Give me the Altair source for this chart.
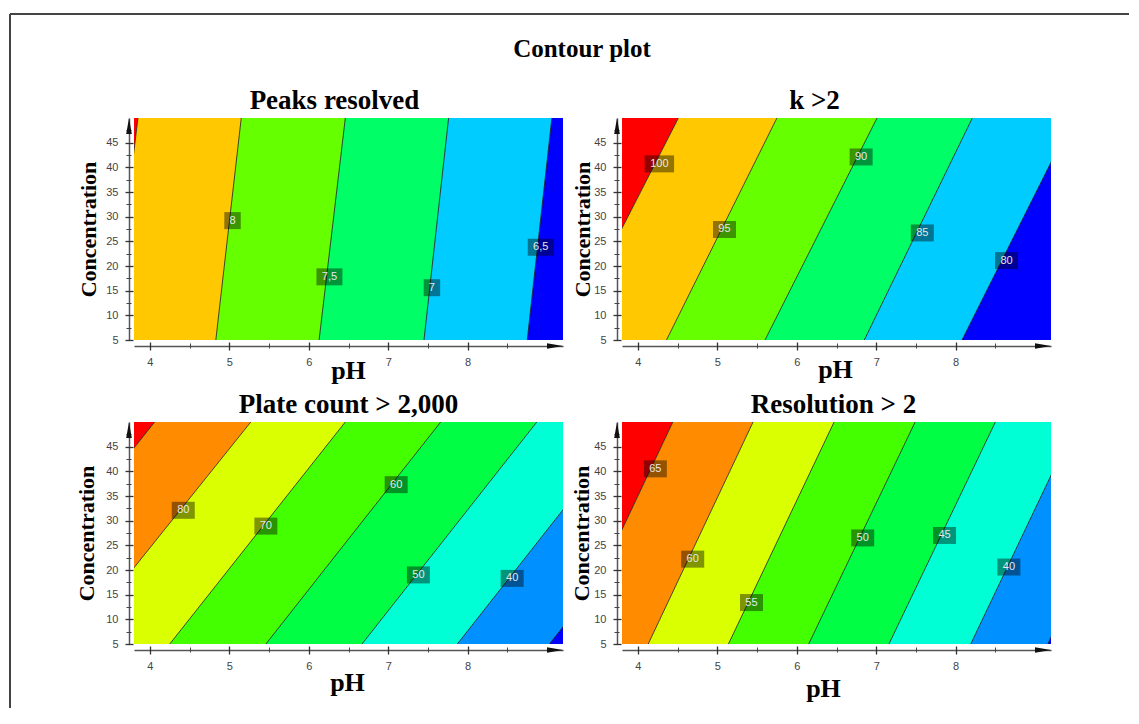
import altair as alt
import pandas as pd

# ---------------- data ----------------
PH_RANGE = [3.8, 9.2]
CONC_RANGE = [5, 50]
PH_MAJOR = [4, 5, 6, 7, 8]
PH_MINOR = [4.5, 5.5, 6.5, 7.5, 8.5]
CONC_MAJOR = [5, 10, 15, 20, 25, 30, 35, 40, 45]
CONC_MINOR = [7.5, 12.5, 17.5, 22.5, 27.5, 32.5, 37.5, 42.5, 47.5]

PALETTE_6 = ["#ff0000", "#ffc800", "#66ff00", "#00ff66", "#00ccff", "#0000ff"]
PALETTE_8 = ["#ff0000", "#ff8c00", "#d9ff00", "#44ff00", "#00ff44", "#00ffd5", "#0090ff", "#0000ff"]

# Peaks resolved: contour levels, pH where each line meets conc=5 and conc=50
peaks_levels = ["8,5", "8", "7,5", "7", "6,5"]
peaks_ph_low = [3.51, 4.83, 6.13, 7.45, 8.75]
peaks_ph_high = [3.85, 5.15, 6.46, 7.76, 9.06]
peaks_lab_text = ["8", "7,5", "7", "6,5"]
peaks_lab_ph = [5.04, 6.26, 7.55, 8.92]
peaks_lab_conc = [29.2, 17.8, 15.6, 23.8]

# k > 2
k_levels = ["100", "95", "90", "85", "80"]
k_ph_low = [3.08, 4.36, 5.60, 6.85, 8.08]
k_ph_high = [4.51, 5.75, 7.01, 8.21, 9.48]
k_lab_text = ["100", "95", "90", "85", "80"]
k_lab_ph = [4.27, 5.09, 6.81, 7.58, 8.64]
k_lab_conc = [40.7, 27.4, 42.1, 26.7, 21.1]

# Plate count > 2,000
plate_levels = ["90", "80", "70", "60", "50", "40", "30"]
plate_ph_low = [1.84, 3.03, 4.25, 5.46, 6.67, 7.87, 9.03]
plate_ph_high = [4.06, 5.27, 6.46, 7.66, 8.87, 10.07, 11.23]
plate_lab_text = ["80", "70", "60", "50", "40"]
plate_lab_ph = [4.42, 5.46, 7.10, 7.38, 8.56]
plate_lab_conc = [32.1, 28.9, 37.3, 19.0, 18.3]

# Resolution > 2
res_levels = ["65", "60", "55", "50", "45", "40", "35"]
res_ph_low = [3.12, 4.13, 5.14, 6.15, 7.16, 8.19, 9.16]
res_ph_high = [4.44, 5.45, 6.47, 7.49, 8.50, 9.52, 10.48]
res_lab_text = ["65", "60", "55", "50", "45", "40"]
res_lab_ph = [4.22, 4.69, 5.43, 6.83, 7.86, 8.67]
res_lab_conc = [40.5, 22.2, 13.4, 26.5, 27.0, 20.6]

# ---------------- styling ----------------
W, H = 429, 222
SERIF = "Liberation Serif"
SANS = "Liberation Sans"

xscale = alt.Scale(domain=PH_RANGE, nice=False, zero=False)
yscale = alt.Scale(domain=CONC_RANGE, nice=False, zero=False)


def box_path(t):
    digits = sum(ch.isdigit() for ch in t)
    commas = len(t) - digits
    w = 10 + 6.5 * digits + 3 * commas
    h = 17
    r = 15.0
    a, b = w / 2 / r, h / 2 / r
    return f"M{-a:.3f},{-b:.3f}H{a:.3f}V{b:.3f}H{-a:.3f}Z"


def conc_on_line(p, p5, p50):
    # concentration at which the straight contour line through (p5, c_lo) and (p50, c_hi) has pH p
    c_lo, c_hi = CONC_RANGE
    return c_lo + (p - p5) * (c_hi - c_lo) / (p50 - p5)


def panel(title, levels, ph_low, ph_high, lab_text, lab_ph, lab_conc, palette,
          title_dx, ph_title_x, ph_title_y, conc_title_x, extra=None):
    n = len(levels)
    names = ["> " + levels[0]] + [f"{levels[i]} - {levels[i - 1]}" for i in range(1, n)] + ["< " + levels[-1]]
    rows = []
    for i in range(n + 1):
        for p in PH_RANGE:
            upper = conc_on_line(p, ph_low[i - 1], ph_high[i - 1]) if i > 0 else CONC_RANGE[1] + 100
            lower = conc_on_line(p, ph_low[i], ph_high[i]) if i < n else CONC_RANGE[0] - 100
            rows.append({"band": names[i], "ph": p, "lower": lower, "upper": upper})
    bands = pd.DataFrame(rows)
    lines = pd.DataFrame({"level": levels, "p5": ph_low, "p50": ph_high,
                          "c5": [CONC_RANGE[0]] * n, "c50": [CONC_RANGE[1]] * n})
    labs = pd.DataFrame({"t": lab_text, "ph": lab_ph, "conc": lab_conc,
                         "shape": [box_path(t) for t in lab_text]})
    one = pd.DataFrame({"k": [0]})

    area = alt.Chart(bands).mark_area(clip=True, opacity=1, orient="vertical").encode(
        x=alt.X("ph:Q", scale=xscale, axis=alt.Axis(
            orient="bottom", offset=6, values=PH_MAJOR, ticks=False, labelPadding=10,
            labelFont=SANS, labelFontSize=11, labelColor="#444",
            domainColor="#555", domainWidth=1.5, grid=False,
            title="pH", titleFont=SERIF, titleFontSize=26, titleFontWeight="bold",
            titleColor="#000", titleBaseline="alphabetic", titleAlign="center",
            titleX=ph_title_x, titleY=ph_title_y)),
        y=alt.Y("lower:Q", scale=yscale, stack=None, axis=alt.Axis(
            orient="left", offset=5, values=CONC_MAJOR, ticks=False, labelPadding=11,
            labelFont=SANS, labelFontSize=11, labelColor="#444",
            domainColor="#555", domainWidth=1.5, grid=False,
            title="Concentration", titleFont=SERIF, titleFontSize=22, titleFontWeight="bold",
            titleColor="#000", titleAngle=270, titleBaseline="alphabetic", titleAlign="center",
            titleX=conc_title_x, titleY=H / 2)),
        y2="upper:Q",
        color=alt.Color("band:N", scale=alt.Scale(domain=names, range=palette), legend=None),
    )

    rules = alt.Chart(lines).mark_rule(clip=True, color="#1a1a1a", strokeWidth=0.8).encode(
        x=alt.X("p5:Q", scale=xscale, axis=alt.Axis(
            orient="bottom", offset=2, values=PH_MAJOR, labels=False, domain=False,
            tickSize=8, tickColor="#333", tickWidth=1.3, grid=False, title=None)),
        x2="p50:Q",
        y=alt.Y("c5:Q", scale=yscale, axis=alt.Axis(
            orient="left", offset=1, values=CONC_MAJOR, labels=False, domain=False,
            tickSize=8, tickColor="#333", tickWidth=1.3, grid=False, title=None)),
        y2="c50:Q",
    )

    boxes = alt.Chart(labs).mark_point(filled=True, size=900, color="#000", opacity=0.42,
                                       strokeWidth=0).encode(
        x=alt.X("ph:Q", scale=xscale, axis=alt.Axis(
            orient="bottom", offset=3, values=PH_MINOR, labels=False, domain=False,
            tickSize=5, tickColor="#444", tickWidth=1, grid=False, title=None)),
        y=alt.Y("conc:Q", scale=yscale, axis=alt.Axis(
            orient="left", offset=3, values=CONC_MINOR, labels=False, domain=False,
            tickSize=5, tickColor="#444", tickWidth=1, grid=False, title=None)),
        shape=alt.Shape("shape:N", scale=None),
    )

    texts = alt.Chart(labs).mark_text(font=SANS, fontSize=11, color="#e8e8e8").encode(
        x=alt.X("ph:Q", scale=xscale, axis=None),
        y=alt.Y("conc:Q", scale=yscale, axis=None),
        text="t:N",
    )

    yarrow = alt.Chart(one).mark_point(
        filled=True, size=256, color="#111", opacity=1, strokeWidth=0, clip=False,
        shape="M0,-1L0.35,1L-0.35,1Z", xOffset=-5, yOffset=8).encode(
        x=alt.XDatum(PH_RANGE[0], type="quantitative", scale=xscale, axis=None),
        y=alt.YDatum(CONC_RANGE[1], type="quantitative", scale=yscale, axis=None),
    )
    xarrow = alt.Chart(one).mark_point(
        filled=True, size=256, color="#111", opacity=1, strokeWidth=0, clip=False,
        shape="M1,0L-1,0.35L-1,-0.35Z", xOffset=-8, yOffset=6).encode(
        x=alt.XDatum(PH_RANGE[1], type="quantitative", scale=xscale, axis=None),
        y=alt.YDatum(CONC_RANGE[0], type="quantitative", scale=yscale, axis=None),
    )

    ptitle = alt.Chart(one).mark_text(
        text=title, font=SERIF, fontSize=27, fontWeight="bold", color="#000",
        align="center", baseline="alphabetic").encode(
        x=alt.value(W / 2 + title_dx), y=alt.value(-9))

    layers = [area, rules, boxes, texts, yarrow, xarrow, ptitle]
    if extra:
        layers += extra
    return alt.layer(*layers).resolve_axis(x="independent", y="independent").properties(
        width=W, height=H)


one_row = pd.DataFrame({"k": [0]})
frame_left = alt.Chart(one_row).mark_rule(color="#444", strokeWidth=2, clip=False).encode(
    x=alt.value(-124), y=alt.value(-104), y2=alt.value(590))
frame_top = alt.Chart(one_row).mark_rule(color="#444", strokeWidth=2, clip=False).encode(
    x=alt.value(-124), x2=alt.value(995), y=alt.value(-104))
main_title = alt.Chart(one_row).mark_text(
    text="Contour plot", font=SERIF, fontSize=25, fontWeight="bold", color="#000",
    align="center", baseline="alphabetic").encode(x=alt.value(448), y=alt.value(-61))

p1 = panel("Peaks resolved", peaks_levels, peaks_ph_low, peaks_ph_high,
           peaks_lab_text, peaks_lab_ph, peaks_lab_conc, PALETTE_6,
           -14, 214, 32, -34, extra=[frame_left, frame_top, main_title])
p2 = panel("k >2", k_levels, k_ph_low, k_ph_high,
           k_lab_text, k_lab_ph, k_lab_conc, PALETTE_6,
           -22, 213, 31, -28)
p3 = panel("Plate count > 2,000", plate_levels, plate_ph_low, plate_ph_high,
           plate_lab_text, plate_lab_ph, plate_lab_conc, PALETTE_8,
           0, 213, 40, -36)
p4 = panel("Resolution > 2", res_levels, res_ph_low, res_ph_high,
           res_lab_text, res_lab_ph, res_lab_conc, PALETTE_8,
           -3, 201, 46, -29)

chart = alt.concat(p1, p2, p3, p4, columns=2, spacing={"row": 82, "column": 59},
                   bounds="flush").resolve_scale(color="independent").properties(
    padding={"left": 1, "top": 5, "right": 0, "bottom": 0},
    background="white",
).configure_view(strokeWidth=0)

chart.save("out.html", embed_options={"renderer": "svg", "actions": False})
